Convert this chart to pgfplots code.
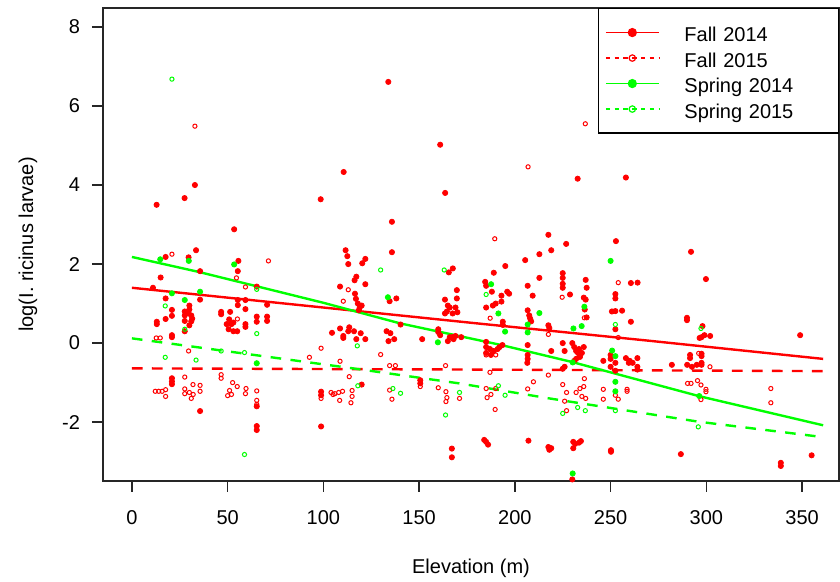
\documentclass[border=0pt]{standalone}
\usepackage{pgfplots}
\pgfplotsset{compat=1.18}
\usepackage{fontspec}
\setmainfont{Liberation Sans}

\definecolor{rred}{RGB}{255,0,0}
\definecolor{rgreen}{RGB}{0,255,0}

\begin{document}
\begin{tikzpicture}
\begin{axis}[
  at={(0,0)}, anchor=south west,
  scale only axis, width=368pt, height=236.5pt,
  xmin=-15.1, xmax=369.3, ymin=-3.49, ymax=8.48,
  xtick={0,50,...,350}, ytick={-2,0,...,8},
  tick pos=left, tick align=outside, major tick length=5.5pt,
  axis line style={line width=0.7pt, draw=black!85},
  every tick/.style={line width=0.7pt, draw=black!85},
  font=\fontsize{10}{12}\selectfont,
  /pgf/number format/assume math mode=true,
  xticklabel style={anchor=center, yshift=-13pt},
  yticklabel style={anchor=east, xshift=-2.5pt},
  xlabel={Elevation (m)}, ylabel={log(I. ricinus larvae)},
  xlabel style={at={(axis description cs:0.5,0)}, anchor=center, yshift=-43.5pt},
  ylabel style={at={(axis description cs:-0.1019,0.5)}, anchor=center},
  clip=true,
  legend style={at={(1,1)}, anchor=north east, draw=black, line width=0.6pt,
    fill=white, inner xsep=3.5pt, inner ysep=5.6pt, row sep=0pt, column sep=12.5pt,
    font=\fontsize{10}{12}\selectfont,
    nodes={inner xsep=0pt, inner ysep=1.375pt, text height=9.6pt, text depth=0.4pt,
      text width=73.5pt, align=left}},
  legend cell align=left,
  legend image code/.code={
    \draw[mark repeat=2, mark phase=2, #1] plot coordinates {(0pt,0pt) (13.25pt,0pt) (26.5pt,0pt)};},
]
% legend
\addlegendimage{rred, line width=0.6pt, mark=*, mark size=2pt, mark options={solid}}
\addlegendentry{Fall 2014}
\addlegendimage{rred, line width=0.6pt, dash pattern=on 2.2pt off 2.2pt, mark=o, mark size=1.6pt, mark options={solid}}
\addlegendentry{Fall 2015}
\addlegendimage{rgreen, line width=0.6pt, mark=*, mark size=2pt, mark options={solid}}
\addlegendentry{Spring 2014}
\addlegendimage{rgreen, line width=0.6pt, dash pattern=on 2.2pt off 2.2pt, mark=o, mark size=1.6pt, mark options={solid}}
\addlegendentry{Spring 2015}

% Fall 2014
\addplot[forget plot, only marks, mark=*, mark size=1.3pt, rred] coordinates {
(12.9,3.50) (27.5,3.67) (32.9,4.00) (53.4,2.88) (98.6,3.64) (110.6,4.33) (133.9,6.61) (135.8,3.07)
(161.0,5.02) (163.6,3.80) (217.5,2.74) (226.8,2.51) (232.8,4.16) (252.8,2.58) (258.0,4.19) (292.0,2.31) (299.8,1.62)
(33.5,2.35) (17.6,2.18) (29.6,2.17) (55.6,2.08) (55.3,1.82) (35.6,1.82) (15.0,1.66) (65.2,1.43) (11.0,1.40)
(17.6,1.13) (20.9,0.84) (20.9,0.69) (17.6,0.61) (13.0,0.54) (13.0,0.48) (27.6,0.80) (27.6,0.70) (29.5,0.75)
(31.0,0.70) (31.5,0.62) (27.6,0.56) (30.0,0.95) (30.0,0.85) (31.0,0.55) (30.0,0.45) (35.6,1.10) (27.6,0.30)
(20.9,0.20) (20.9,0.15) (46.6,0.79) (46.6,0.73) (51.3,0.79) (50.8,0.60) (49.5,0.48) (52.0,0.48) (50.5,0.35)
(53.0,0.52) (55.0,0.30) (53.0,0.30) (59.3,0.86) (59.3,0.48) (59.3,0.41) (55.3,1.09) (55.3,0.96) (59.3,1.09)
(65.2,0.67) (65.2,0.54) (70.6,0.67) (70.6,0.56) (70.6,0.97)
(20.9,-0.89) (20.9,-0.97) (20.9,-1.04) (35.6,-1.72) (65.2,-1.60) (65.2,-2.10) (65.2,-2.20)
(98.8,-1.23) (98.8,-1.32) (98.8,-2.11)
(108.7,1.43) (108.7,0.37) (104.5,0.26) (110.4,0.13) (110.4,0.18) (113.0,0.30) (113.5,0.40) (111.6,2.35)
(112.5,2.20) (113.0,2.00) (117.2,1.68) (116.3,1.59) (121.9,1.49) (121.9,2.13) (120.3,2.02) (116.5,1.25)
(117.0,1.12) (118.0,1.00) (119.0,0.90) (118.5,0.83) (120.0,0.95) (117.2,0.10) (121.9,0.10) (116.0,0.30)
(119.5,0.25) (120.0,-1.05) (135.8,2.30) (134.6,1.06) (138.1,1.13) (140.3,0.47) (133.0,0.30) (135.0,0.25)
(137.0,0.10) (134.0,0.05) (151.6,0.10) (150.6,-0.94) (150.6,-1.02)
(167.6,1.89) (165.5,1.79) (169.7,1.34) (169.7,1.13) (163.5,1.10) (165.0,0.95) (166.0,0.90) (164.5,0.80)
(163.5,0.75) (167.5,0.75) (169.0,0.90) (170.0,0.78) (160.0,0.35) (160.0,0.28) (161.0,0.20) (166.0,0.15)
(167.5,0.15) (169.0,0.18) (168.0,0.10) (172.0,0.15) (165.0,0.05) (167.1,-2.67) (167.1,-2.89)
(195.0,1.95) (189.0,1.78) (184.5,1.55) (185.0,1.45) (196.0,1.30) (188.0,1.30) (193.0,1.20) (197.0,1.25)
(190.0,1.00) (193.0,1.05) (185.0,0.90) (188.5,0.95) (193.7,0.54) (193.7,0.46) (185.0,0.03) (193.5,-0.05)
(192.0,-0.10) (185.0,-0.10) (187.0,-0.15) (189.0,-0.20) (191.0,-0.15) (185.0,-0.25) (187.5,-0.30)
(184.0,-2.45) (185.0,-2.50) (186.0,-2.57)
(205.4,2.10) (212.8,2.25) (212.8,1.65) (206.7,1.45) (209.3,1.20) (206.7,0.83) (207.5,0.70) (208.0,0.62)
(208.5,0.55) (206.7,-0.05) (206.7,-0.30) (206.7,-0.40) (206.5,-0.50) (207.1,-2.47) (219.0,2.35)
(217.5,0.45) (218.0,0.38) (219.0,-0.20) (217.5,-2.63) (218.0,-2.70) (219.0,-2.66)
(225.0,1.77) (225.0,1.65) (225.0,1.50) (225.0,1.40) (228.8,1.23) (237.0,1.60) (237.5,1.40) (236.0,1.15)
(237.0,1.10) (236.5,0.85) (237.5,0.65) (225.0,0.00) (226.0,-0.20) (230.0,0.00) (231.0,-0.10) (232.0,-0.20)
(233.0,-0.25) (234.0,-0.30) (235.0,-0.25) (236.0,-0.10) (232.0,-0.40) (231.0,-0.45) (226.0,-0.60)
(225.0,-0.65) (234.0,-0.35) (233.5,-0.15) (230.5,-2.50) (231.5,-2.55) (233.5,-2.52) (234.5,-2.48)
(230.5,-2.66) (230.0,-3.45)
(260.6,1.52) (264.1,1.53) (252.5,1.24) (252.5,1.13) (250.7,0.80) (252.5,0.81) (256.0,0.82) (260.6,0.54)
(252.5,0.35) (246.2,-0.45) (250.0,-0.30) (250.0,-0.40) (252.5,-0.50) (250.0,-0.60) (252.5,-0.70)
(258.0,-0.38) (260.0,-0.45) (261.5,-0.50) (259.5,-0.50) (264.0,-0.38) (264.0,-0.60) (264.0,-0.67)
(250.2,-2.71) (250.2,-2.75)
(289.9,0.64) (289.9,0.58) (298.0,0.43) (299.0,0.20) (297.5,0.15) (302.0,0.18) (296.5,0.13) (291.5,-0.30)
(291.5,-0.38) (297.5,-0.27) (297.5,-0.33) (290.0,-0.55) (292.5,-0.60) (295.0,-0.55) (282.0,-0.55)
(297.5,-0.55) (297.5,-0.50) (286.7,-2.81)
(338.9,-3.03) (338.9,-3.11) (355.0,-2.84) (349.0,0.20)
};

% Fall 2015
\addplot[forget plot, only marks, mark=o, mark size=1.05pt, rred, line width=0.5pt] coordinates {
(32.9,5.49) (236.8,5.55) (206.9,4.46) (189.5,2.64) (20.9,2.25) (71.3,2.08) (54.6,1.65) (59.3,1.42)
(110.4,1.06) (113.0,1.35) (55.1,0.61) (12.7,0.13) (14.8,0.13) (29.6,-0.20) (92.7,-0.36) (98.8,-0.13)
(108.7,-0.46) (113.5,-0.85) (114.4,-1.51) (27.6,-0.86) (31.9,-1.05) (35.6,-1.07) (46.6,-0.80) (46.6,-0.89)
(52.6,-1.00) (55.0,-1.10) (59.6,-1.15) (12.2,-1.22) (14.0,-1.22) (15.8,-1.22) (17.6,-1.18) (17.6,-1.35)
(27.6,-1.16) (27.6,-1.28) (30.0,-1.25) (32.0,-1.30) (35.6,-1.22) (31.0,-1.40) (51.0,-1.20) (52.0,-1.30)
(50.0,-1.33) (59.3,-1.28) (65.2,-1.21) (65.2,-1.45) (65.2,-1.55) (98.8,-1.40) (104.0,-1.25) (106.0,-1.28)
(108.0,-1.25) (110.0,-1.22) (105.0,-1.30) (108.5,-1.45) (129.9,-0.29) (134.6,-0.57) (137.6,-0.57)
(115.0,-1.20) (115.0,-1.35) (134.6,-1.19) (135.8,-1.42) (150.6,-1.10) (163.8,-0.57) (160.0,-1.13)
(164.0,-1.23) (164.5,-1.38) (164.0,-1.48) (171.1,-1.40) (187.1,0.63) (187.0,-0.74) (185.0,-1.15)
(187.5,-1.30) (190.0,-1.15) (185.5,-1.38) (189.7,-1.68) (185.0,-0.30) (190.0,-0.30) (224.7,1.16)
(236.3,0.64) (217.5,0.22) (217.5,-0.81) (209.7,-0.98) (206.7,-1.16) (225.0,-1.05) (227.0,-1.25)
(232.0,-1.25) (234.0,-1.15) (236.0,-1.10) (235.0,-1.35) (237.0,-1.40) (226.0,-1.47) (227.0,-1.71)
(236.3,-0.90) (254.0,1.53) (254.0,0.14) (246.2,-1.17) (246.2,-1.42) (258.6,-1.17) (258.6,-1.22)
(252.5,-1.32) (254.0,-1.42) (296.0,-0.26) (290.2,-1.02) (292.0,-1.02) (295.4,-0.95) (297.2,-1.06)
(299.8,-1.17) (299.8,-1.23) (297.2,-1.43) (301.9,-0.60) (333.7,-1.15) (333.7,-1.51)
};

% Spring 2014
\addplot[forget plot, only marks, mark=*, mark size=1.3pt, rgreen] coordinates {
(14.8,2.12) (29.7,2.08) (53.4,1.99) (20.9,1.26) (35.6,1.30) (27.6,1.09) (65.2,-0.51) (133.7,1.16)
(159.8,0.02) (187.6,1.49) (191.4,0.75) (194.9,0.29) (212.8,0.76) (206.7,0.47) (206.7,0.27) (236.3,0.92)
(234.9,0.43) (230.6,0.37) (230.2,-0.49) (250.0,2.08) (250.8,-0.19) (252.5,-0.33) (252.5,-0.98)
(252.5,-1.22) (230.2,-3.30) (296.3,-1.34)
};

% Spring 2015
\addplot[forget plot, only marks, mark=o, mark size=1.05pt, rgreen, line width=0.5pt] coordinates {
(20.9,6.68) (17.4,0.94) (27.6,0.35) (65.2,0.24) (65.2,1.36) (17.4,-0.36) (33.5,-0.43) (46.6,-0.20)
(58.8,-0.24) (58.8,-2.82) (129.9,1.85) (117.7,-0.07) (118.0,-1.08) (136.3,-1.15) (140.3,-1.27)
(163.1,1.85) (171.1,-1.25) (163.8,-1.82) (185.0,1.23) (191.4,-1.08) (194.9,-1.32) (225.0,-1.78)
(232.8,-1.63) (236.8,-1.71) (252.5,0.47) (252.5,-1.71) (297.2,0.37) (295.8,-2.12)
};

% fitted lines
\addplot[forget plot, rred, line width=1.2pt] coordinates {
(0,1.40) (90,0.95) (180,0.50) (270,0.06) (361,-0.40)};
\addplot[forget plot, rred, line width=1.2pt, dash pattern=on 5.3pt off 4.7pt] coordinates {
(0,-0.64) (180,-0.67) (361,-0.71)};
\addplot[forget plot, rgreen, line width=1.2pt] coordinates {
(0,2.18) (35,1.80) (100,1.02) (140,0.50) (193,-0.05) (230,-0.48) (296,-1.34) (361,-2.08)};
\addplot[forget plot, rgreen, line width=1.2pt, dash pattern=on 5.3pt off 4.7pt] coordinates {
(0,0.12) (114,-0.63) (171,-1.02) (218,-1.40) (296,-1.99) (361,-2.38)};
\end{axis}
\pgfresetboundingbox
\path[use as bounding box] (-51.5pt,-50.5pt) rectangle (368.5pt,240.5pt);
\end{tikzpicture}
\end{document}
